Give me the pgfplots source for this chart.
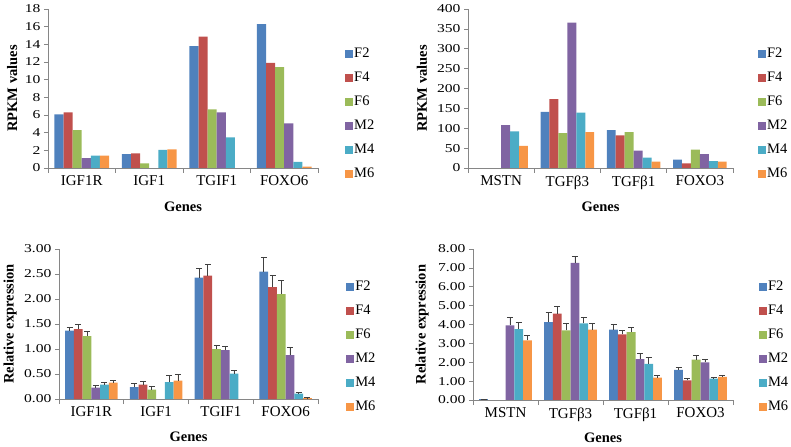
\documentclass[border=0pt]{standalone}
\usepackage{fontspec}
\setmainfont{Liberation Serif}
\newfontfamily\tickfont{Liberation Serif}[FakeStretch=1.3]
\usepackage{pgfplots}
\usepackage{pgfplotstable}
\pgfplotsset{compat=1.18}

\definecolor{cF2}{HTML}{4F81BD}
\definecolor{cF4}{HTML}{C0504D}
\definecolor{cF6}{HTML}{9BBB59}
\definecolor{cM2}{HTML}{8064A2}
\definecolor{cM4}{HTML}{4BACC6}
\definecolor{cM6}{HTML}{F79646}
\definecolor{axgray}{HTML}{868686}

\pgfplotstableread{
x F2 F4 F6 M2 M4 M6
0 6.07 6.30 4.30 1.13 1.40 1.40
1 1.58 1.66 0.53 nan 2.04 2.11
2 13.80 14.87 6.64 6.30 3.47 nan
3 16.30 11.89 11.43 5.06 0.68 0.15
}\tabA

\pgfplotstableread{
x F2 F4 F6 M2 M4 M6
0 nan nan nan 107.6 92.4 55.5
1 141 173 88 365.5 139.5 90
2 95 82 90 43.7 26 16
3 21 11.8 46 35 17.6 16
}\tabB

\pgfplotstableread{
x F2 eF2 F4 eF4 F6 eF6 M2 eM2 M4 eM4 M6 eM6
0 1.37 0.06 1.40 0.10 1.26 0.09 0.23 0.05 0.29 0.05 0.33 0.05
1 0.24 0.08 0.29 0.07 0.19 0.07 nan 0 0.34 0.13 0.37 0.12
2 2.43 0.18 2.47 0.22 1.00 0.07 0.98 0.07 0.51 0.06 nan 0
3 2.55 0.28 2.24 0.23 2.10 0.27 0.88 0.15 0.11 0.03 0.02 0.01
}\tabC

\pgfplotstableread{
x F2 eF2 F4 eF4 F6 eF6 M2 eM2 M4 eM4 M6 eM6
0 0.05 0 nan 0 nan 0 3.96 0.44 3.76 0.36 3.16 0.25
1 4.13 0.50 4.58 0.40 3.69 0.37 7.26 0.34 4.06 0.30 3.73 0.35
2 3.73 0.28 3.48 0.23 3.59 0.26 2.17 0.30 1.91 0.33 1.18 0.11
3 1.59 0.12 1.04 0.11 2.14 0.21 2.00 0.14 1.13 0.07 1.22 0.10
}\tabD

\pgfplotsset{
  panel/.style={
    scale only axis, anchor=south west,
    ybar=0pt, bar width=0.135,
    xmin=-0.5, xmax=3.5, ymin=0,
    axis lines*=left,
    axis line style={draw=axgray, line width=0.7bp},
    tick style={draw=axgray, line width=0.7bp},
    tick align=outside,
    xtick={0,1,2,3},
    major x tick style={draw=none},
    minor xtick={-0.5,0.5,1.5,2.5,3.5},
    major tick length=4bp, minor tick length=5bp,
    /pgf/number format/assume math mode=true,
    yticklabel style={font=\tickfont\fontsize{12bp}{12bp}\selectfont},
    xticklabel style={font=\fontsize{15bp}{15bp}\selectfont},
    label style={font=\bfseries\fontsize{14.5bp}{14.5bp}\selectfont},
    xlabel={Genes},
    legend cell align=left,
    legend image code/.code={\path[##1,draw=none] (0bp,-4bp) rectangle (8bp,4bp);},
    legend style={draw=none, fill=none, anchor=west,
      font=\fontsize{14.5bp}{14.5bp}\selectfont, row sep=9bp,
      nodes={inner sep=1bp, text height=10bp, text depth=3bp}},
  },
  eb/.style={error bars/.cd, y dir=plus, y explicit,
    error bar style={draw=black!75, line width=0.6bp},
    error mark options={rotate=90, draw=black!75, line width=0.6bp, mark size=3bp}},
}

\begin{document}
\begin{tikzpicture}
\path[use as bounding box] (0,0) rectangle (791bp,447bp);

% Panel A
\begin{axis}[panel, at={(48bp,279bp)}, width=270bp, height=159bp,
  ymax=18, ytick={0,2,...,18},
  xticklabels={IGF1R,IGF1,TGIF1,FOXO6},
  ylabel={RPKM values},
  ylabel style={at={(axis description cs:-0.133,0.5)}, anchor=center},
  xlabel style={at={(axis description cs:0.5,-0.245)}, anchor=center},
  legend style={at={(axis description cs:1.089,0.34)}}]
\addplot[fill=cF2, draw=none] table[x=x,y=F2] {\tabA};
\addplot[fill=cF4, draw=none] table[x=x,y=F4] {\tabA};
\addplot[fill=cF6, draw=none] table[x=x,y=F6] {\tabA};
\addplot[fill=cM2, draw=none] table[x=x,y=M2] {\tabA};
\addplot[fill=cM4, draw=none] table[x=x,y=M4] {\tabA};
\addplot[fill=cM6, draw=none] table[x=x,y=M6] {\tabA};
\legend{F2,F4,F6,M2,M4,M6}
\end{axis}

% Panel B
\begin{axis}[panel, at={(468bp,279bp)}, width=265bp, height=159bp,
  ymax=400, ytick={0,50,...,400},
  xticklabels={MSTN,TGFβ3,TGFβ1,FOXO3},
  ylabel={RPKM values},
  ylabel style={at={(axis description cs:-0.174,0.5)}, anchor=center},
  xlabel style={at={(axis description cs:0.5,-0.245)}, anchor=center},
  legend style={at={(axis description cs:1.083,0.34)}}]
\addplot[fill=cF2, draw=none] table[x=x,y=F2] {\tabB};
\addplot[fill=cF4, draw=none] table[x=x,y=F4] {\tabB};
\addplot[fill=cF6, draw=none] table[x=x,y=F6] {\tabB};
\addplot[fill=cM2, draw=none] table[x=x,y=M2] {\tabB};
\addplot[fill=cM4, draw=none] table[x=x,y=M4] {\tabB};
\addplot[fill=cM6, draw=none] table[x=x,y=M6] {\tabB};
\legend{F2,F4,F6,M2,M4,M6}
\end{axis}

% Panel C
\begin{axis}[panel, at={(59bp,48bp)}, width=259bp, height=150bp,
  ymax=3, ytick={0,0.5,...,3},
  yticklabel style={/pgf/number format/fixed, /pgf/number format/fixed zerofill, /pgf/number format/precision=2},
  xticklabels={IGF1R,IGF1,TGIF1,FOXO6},
  ylabel={Relative expression},
  ylabel style={at={(axis description cs:-0.189,0.5)}, anchor=center},
  xlabel style={at={(axis description cs:0.5,-0.253)}, anchor=center},
  legend style={at={(axis description cs:1.097,0.347)}}]
\addplot[fill=cF2, draw=none, eb] table[x=x,y=F2,y error=eF2] {\tabC};
\addplot[fill=cF4, draw=none, eb] table[x=x,y=F4,y error=eF4] {\tabC};
\addplot[fill=cF6, draw=none, eb] table[x=x,y=F6,y error=eF6] {\tabC};
\addplot[fill=cM2, draw=none, eb] table[x=x,y=M2,y error=eM2] {\tabC};
\addplot[fill=cM4, draw=none, eb] table[x=x,y=M4,y error=eM4] {\tabC};
\addplot[fill=cM6, draw=none, eb] table[x=x,y=M6,y error=eM6] {\tabC};
\legend{F2,F4,F6,M2,M4,M6}
\end{axis}

% Panel D
\begin{axis}[panel, at={(473bp,47bp)}, width=260bp, height=151bp,
  ymax=8, ytick={0,1,...,8},
  yticklabel style={/pgf/number format/fixed, /pgf/number format/fixed zerofill, /pgf/number format/precision=2},
  xticklabels={MSTN,TGFβ3,TGFβ1,FOXO3},
  ylabel={Relative expression},
  ylabel style={at={(axis description cs:-0.196,0.5)}, anchor=center},
  xlabel style={at={(axis description cs:0.5,-0.25)}, anchor=center},
  legend style={at={(axis description cs:1.088,0.35)}}]
\addplot[fill=cF2, draw=none, eb] table[x=x,y=F2,y error=eF2] {\tabD};
\addplot[fill=cF4, draw=none, eb] table[x=x,y=F4,y error=eF4] {\tabD};
\addplot[fill=cF6, draw=none, eb] table[x=x,y=F6,y error=eF6] {\tabD};
\addplot[fill=cM2, draw=none, eb] table[x=x,y=M2,y error=eM2] {\tabD};
\addplot[fill=cM4, draw=none, eb] table[x=x,y=M4,y error=eM4] {\tabD};
\addplot[fill=cM6, draw=none, eb] table[x=x,y=M6,y error=eM6] {\tabD};
\legend{F2,F4,F6,M2,M4,M6}
\end{axis}
\end{tikzpicture}
\end{document}
